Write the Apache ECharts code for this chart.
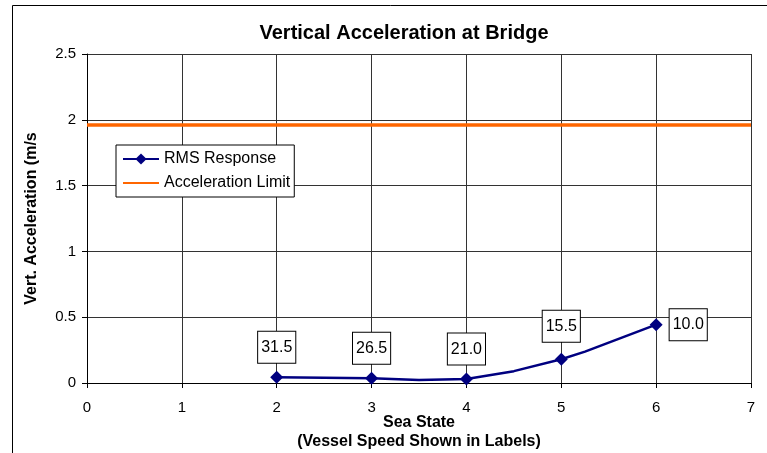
<!DOCTYPE html>
<html>
<head>
<meta charset="utf-8">
<script src="https://cdn.jsdelivr.net/npm/echarts@6/dist/echarts.min.js"></script>
<style>
  html, body { margin: 0; padding: 0; background: #fff; }
  #chart { width: 767px; height: 453px; }
</style>
</head>
<body>
<div id="chart"></div>
<script>
// Sea states with measured RMS response (markers + speed labels)
const seaStates = [2, 3, 4, 5, 6];
const rmsAccel = [0.043, 0.036, 0.030, 0.180, 0.443];
const vesselSpeeds = ['31.5', '26.5', '21.0', '15.5', '10.0'];

// Extra vertices of the response curve between the marked sea states
const curveStates = [3.5, 4.5, 5.25];
const curveAccel = [0.023, 0.090, 0.238];

// Acceleration limit
const accelLimit = 1.96;
const limitRange = [0, 7];

// Axis ticks
const xTicks = [0, 1, 2, 3, 4, 5, 6, 7];
const yTicks = [0, 0.5, 1, 1.5, 2, 2.5];

const FONT = '"Liberation Sans", Arial, sans-serif';

// Distance of each speed label from its marker
const labelDist = [8, 8, 8, 11, 7];

const responseData = [];
seaStates.forEach((s, i) => {
  responseData.push({
    value: [s, rmsAccel[i]],
    speed: vesselSpeeds[i],
    label: {
      show: true,
      position: i === seaStates.length - 1 ? 'right' : 'top',
      distance: labelDist[i]
    }
  });
});
curveStates.forEach((s, i) => {
  responseData.push({
    value: [s, curveAccel[i]],
    symbol: 'none',
    label: { show: false }
  });
});
responseData.sort((a, b) => a.value[0] - b.value[0]);

const chart = echarts.init(document.getElementById('chart'), null, { renderer: 'canvas' });

chart.setOption({
  backgroundColor: '#fff',
  animation: false,
  title: {
    text: 'Vertical Acceleration at Bridge',
    left: 399,
    top: 18,
    textAlign: 'center',
    textStyle: { fontFamily: FONT, fontSize: 20, fontWeight: 'bold', color: '#000' }
  },
  graphic: [{
    type: 'rect',
    shape: { x: 12.5, y: 5.5, width: 800, height: 500 },
    style: { fill: 'none', stroke: '#000', lineWidth: 1 },
    silent: true,
    z: -1
  }],
  legend: {
    orient: 'vertical',
    left: 116,
    top: 145,
    padding: [6, 4, 6, 6],
    itemWidth: 36,
    itemHeight: 14,
    itemGap: 8,
    backgroundColor: '#fff',
    borderColor: '#000',
    borderWidth: 1,
    borderRadius: 0,
    textStyle: { fontFamily: FONT, fontSize: 16, color: '#000' },
    data: [
      { name: 'RMS Response' },
      { name: 'Acceleration Limit', itemStyle: { opacity: 0 } }
    ]
  },
  grid: { left: 87, right: 16, top: 54, bottom: 70, outerBoundsMode: 'none', containLabel: false },
  xAxis: {
    type: 'value',
    min: xTicks[0],
    max: xTicks[xTicks.length - 1],
    interval: 1,
    name: 'Sea State\n(Vessel Speed Shown in Labels)',
    nameLocation: 'middle',
    nameGap: 30,
    nameMoveOverlap: false,
    nameTextStyle: { fontFamily: FONT, fontSize: 16, fontWeight: 'bold', color: '#000', lineHeight: 19 },
    axisLine: { onZero: false, lineStyle: { color: '#000', width: 1 } },
    axisTick: { show: true, inside: false, length: 5, lineStyle: { color: '#000' } },
    axisLabel: { fontFamily: FONT, fontSize: 15, color: '#000', margin: 17 },
    splitLine: { show: true, lineStyle: { color: '#333', width: 1 } }
  },
  yAxis: {
    type: 'value',
    min: yTicks[0],
    max: yTicks[yTicks.length - 1],
    interval: 0.5,
    name: 'Vert. Acceleration (m/s',
    nameLocation: 'middle',
    nameGap: 47,
    nameMoveOverlap: false,
    nameTextStyle: { fontFamily: FONT, fontSize: 16, fontWeight: 'bold', color: '#000' },
    axisLine: { show: true, lineStyle: { color: '#000', width: 1 } },
    axisTick: { show: true, inside: false, length: 5, lineStyle: { color: '#000' } },
    axisLabel: { fontFamily: FONT, fontSize: 15, color: '#000', margin: 11 },
    splitLine: { show: true, lineStyle: { color: '#333', width: 1 } }
  },
  series: [
    {
      name: 'Acceleration Limit',
      type: 'line',
      data: limitRange.map(x => [x, accelLimit]),
      symbol: 'none',
      lineStyle: { color: '#FF6600', width: 3.5 },
      itemStyle: { color: '#FF6600' },
      z: 3
    },
    {
      name: 'RMS Response',
      type: 'line',
      data: responseData,
      symbol: 'diamond',
      symbolSize: 13,
      lineStyle: { color: '#000080', width: 2.5 },
      itemStyle: { color: '#000080' },
      label: {
        fontFamily: FONT,
        fontSize: 16,
        color: '#000',
        backgroundColor: '#fff',
        borderColor: '#000',
        borderWidth: 1,
        padding: [8, 3, 7, 3],
        formatter: p => p.data.speed || ''
      },
      z: 4
    }
  ]
});
</script>
</body>
</html>
